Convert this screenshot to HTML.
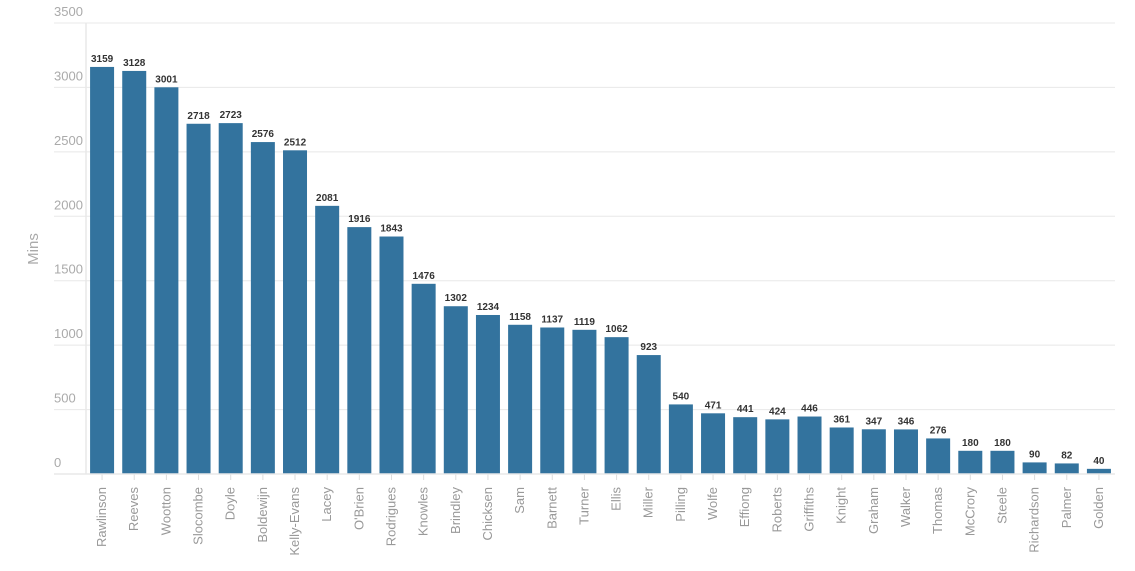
<!DOCTYPE html>
<html><head><meta charset="utf-8"><style>
body{margin:0;background:#fff;width:1135px;height:566px;overflow:hidden;font-family:"Liberation Sans",sans-serif}
</style></head><body>
<svg id="c" width="1135" height="566"></svg>
<script>
const categories=["Rawlinson","Reeves","Wootton","Slocombe","Doyle","Boldewijn","Kelly-Evans","Lacey","O'Brien","Rodrigues","Knowles","Brindley","Chicksen","Sam","Barnett","Turner","Ellis","Miller","Pilling","Wolfe","Effiong","Roberts","Griffiths","Knight","Graham","Walker","Thomas","McCrory","Steele","Richardson","Palmer","Golden"];
const values=[3159,3128,3001,2718,2723,2576,2512,2081,1916,1843,1476,1302,1234,1158,1137,1119,1062,923,540,471,441,424,446,361,347,346,276,180,180,90,82,40];
const yTicks=[0,500,1000,1500,2000,2500,3000,3500];
const NS="http://www.w3.org/2000/svg";
const svg=document.getElementById('c');
const y0=474,yTop=23,yMax=3500,x0=86,x1=1115;
const y=v=>y0-(v/yMax)*(y0-yTop);
const step=(x1-x0)/categories.length, bw=24;
const xc=i=>x0+step*(i+0.5);
function mk(t,a,txt){const e=document.createElementNS(NS,t);for(const k in a)e.setAttribute(k,a[k]);if(txt!=null)e.textContent=txt;svg.appendChild(e);return e;}
yTicks.forEach(t=>{
 const g=mk('line',{x1:54,x2:x1,y1:y(t),y2:y(t),stroke:'#e8e8e8','stroke-width':1});
 
 
 const l=mk('text',{x:54,y:y(t)-7,'font-size':13,fill:'#aaa'},t);
 
 
});
const ax=mk('line',{x1:x0,x2:x0,y1:yTop,y2:y0,stroke:'#e8e8e8','stroke-width':1.5});


const yt=mk('text',{x:38,y:249,'font-size':15,fill:'#aaa','text-anchor':'middle',transform:'rotate(-90 38 249)'},'Mins');


categories.forEach((c,i)=>{
 const cx=xc(i),v=values[i];
 const b=mk('rect',{x:cx-bw/2,y:y(v),width:bw,height:y0-y(v),fill:'#33739e'});
 
 
 const vl=mk('text',{x:cx,y:y(v)-5,'font-size':10,'font-weight':'bold',fill:'#333','text-anchor':'middle'},v);
 
 
 const tk=mk('line',{x1:cx,x2:cx,y1:y0,y2:y0+6,stroke:'#ddd'});
 
 
 const xl=mk('text',{x:cx+4,y:487,'font-size':13,fill:'#999','text-anchor':'end',transform:`rotate(-90 ${cx+4} 487)`},c);
 
 
});
const bx=mk('line',{x1:54,x2:x1,y1:y0,y2:y0,stroke:'#e8e8e8','stroke-width':1.5});


</script>
</body></html>
